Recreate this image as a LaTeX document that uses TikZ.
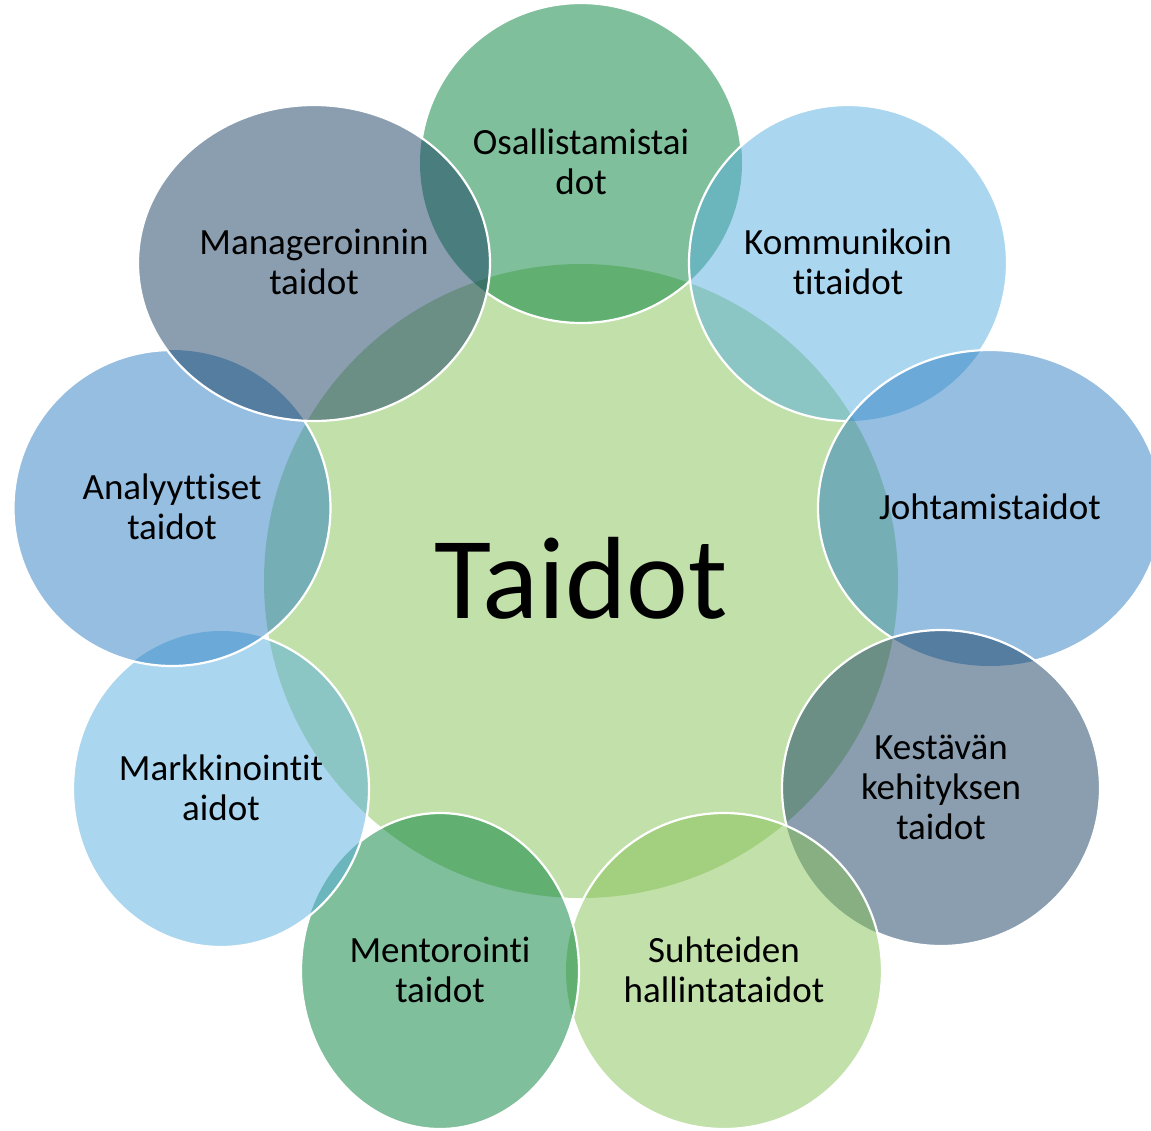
\documentclass[tikz,border=0pt]{standalone}
\usepackage{fontspec}
\setmainfont{Carlito}[Ligatures=NoCommon]
\usetikzlibrary{shapes.geometric}
\definecolor{cgreen}{RGB}{1,127,57}
\definecolor{clblue}{RGB}{87,173,223}
\definecolor{cblue}{RGB}{43,125,193}
\definecolor{cslate}{RGB}{21,61,97}
\definecolor{clgreen}{RGB}{133,193,85}
\definecolor{ccore}{RGB}{194,224,170}
\newcommand\txtlines[1]{\vtop{\baselineskip=40pt\lineskiplimit=-100pt\halign{\hfil##\hfil\cr#1\crcr}}}
\tikzset{
  bubble/.style={ellipse, inner sep=0pt, outer sep=0pt, fill opacity=0.5, text opacity=1,
    text=black, font=\fontsize{37}{40}\selectfont, text height=23.4pt, text depth=0pt},
  twolines/.style={text depth=40pt},
  threelines/.style={text depth=80pt},
  rim/.style={draw=white, line width=2.2pt},
}
\begin{document}
\begin{tikzpicture}[x=1pt, y=-1pt]
\useasboundingbox (0,0) rectangle (1151,1130);
% centre
\node[bubble, fill=ccore, fill opacity=1, minimum width=634pt, minimum height=634pt,
  font=\fontsize{117}{120}\selectfont, text height=74pt] (core) at (581,581) {\txtlines{Taidot}};
% outer bubbles, clockwise from the top
\node[bubble, twolines, fill=cgreen, minimum width=322pt, minimum height=320pt] (osa) at (581,163) {\txtlines{Osallistamistai\cr dot}};
\node[bubble, twolines, fill=clblue, minimum width=318pt, minimum height=316pt] (kom) at (848,263) {\txtlines{Kommunikoin\cr titaidot}};
\node[bubble, fill=cblue, minimum width=344pt, minimum height=316pt] (joh) at (990,508) {\txtlines{Johtamistaidot}};
\node[bubble, threelines, fill=cslate, minimum width=318pt, minimum height=316pt] (kes) at (941,788) {\txtlines{Kestävän\cr kehityksen\cr taidot}};
\node[bubble, twolines, fill=clgreen, minimum width=316pt, minimum height=316pt] (suh) at (724,971) {\txtlines{Suhteiden\cr hallintataidot}};
\node[bubble, twolines, fill=cgreen, minimum width=278pt, minimum height=316pt] (men) at (440,971) {\txtlines{Mentorointi\cr taidot}};
\node[bubble, twolines, fill=clblue, minimum width=296pt, minimum height=316pt] (mar) at (221,789) {\txtlines{Markkinointit\cr aidot}};
\node[bubble, twolines, fill=cblue, minimum width=317pt, minimum height=316pt] (ana) at (172,508) {\txtlines{Analyyttiset\cr taidot}};
\node[bubble, twolines, fill=cslate, minimum width=352pt, minimum height=316pt] (man) at (314,263) {\txtlines{Manageroinnin\cr taidot}};
% white rims, hidden where a later bubble lies on top
\begin{scope}[even odd rule]
  \clip (-20,-20) rectangle (1180,1160) (kom.center) ellipse [x radius=159pt, y radius=158pt];
  \clip (-20,-20) rectangle (1180,1160) (man.center) ellipse [x radius=176pt, y radius=158pt];
  \draw[rim] (osa.center) ellipse [x radius=161pt, y radius=160pt];
\end{scope}
\begin{scope}[even odd rule]
  \clip (-20,-20) rectangle (1180,1160) (joh.center) ellipse [x radius=172pt, y radius=158pt];
  \draw[rim] (kom.center) ellipse [x radius=159pt, y radius=158pt];
\end{scope}
\begin{scope}[even odd rule]
  \clip (-20,-20) rectangle (1180,1160) (kes.center) ellipse [x radius=159pt, y radius=158pt];
  \draw[rim] (joh.center) ellipse [x radius=172pt, y radius=158pt];
\end{scope}
\begin{scope}[even odd rule]
  \clip (-20,-20) rectangle (1180,1160) (suh.center) ellipse [x radius=158pt, y radius=158pt];
  \draw[rim] (kes.center) ellipse [x radius=159pt, y radius=158pt];
\end{scope}
\begin{scope}[even odd rule]
  \clip (-20,-20) rectangle (1180,1160) (men.center) ellipse [x radius=139pt, y radius=158pt];
  \draw[rim] (suh.center) ellipse [x radius=158pt, y radius=158pt];
\end{scope}
\begin{scope}[even odd rule]
  \clip (-20,-20) rectangle (1180,1160) (mar.center) ellipse [x radius=148pt, y radius=158pt];
  \draw[rim] (men.center) ellipse [x radius=139pt, y radius=158pt];
\end{scope}
\begin{scope}[even odd rule]
  \clip (-20,-20) rectangle (1180,1160) (ana.center) ellipse [x radius=158.5pt, y radius=158pt];
  \draw[rim] (mar.center) ellipse [x radius=148pt, y radius=158pt];
\end{scope}
\begin{scope}[even odd rule]
  \clip (-20,-20) rectangle (1180,1160) (man.center) ellipse [x radius=176pt, y radius=158pt];
  \draw[rim] (ana.center) ellipse [x radius=158.5pt, y radius=158pt];
\end{scope}
\draw[rim] (man.center) ellipse [x radius=176pt, y radius=158pt];
\end{tikzpicture}
\end{document}
